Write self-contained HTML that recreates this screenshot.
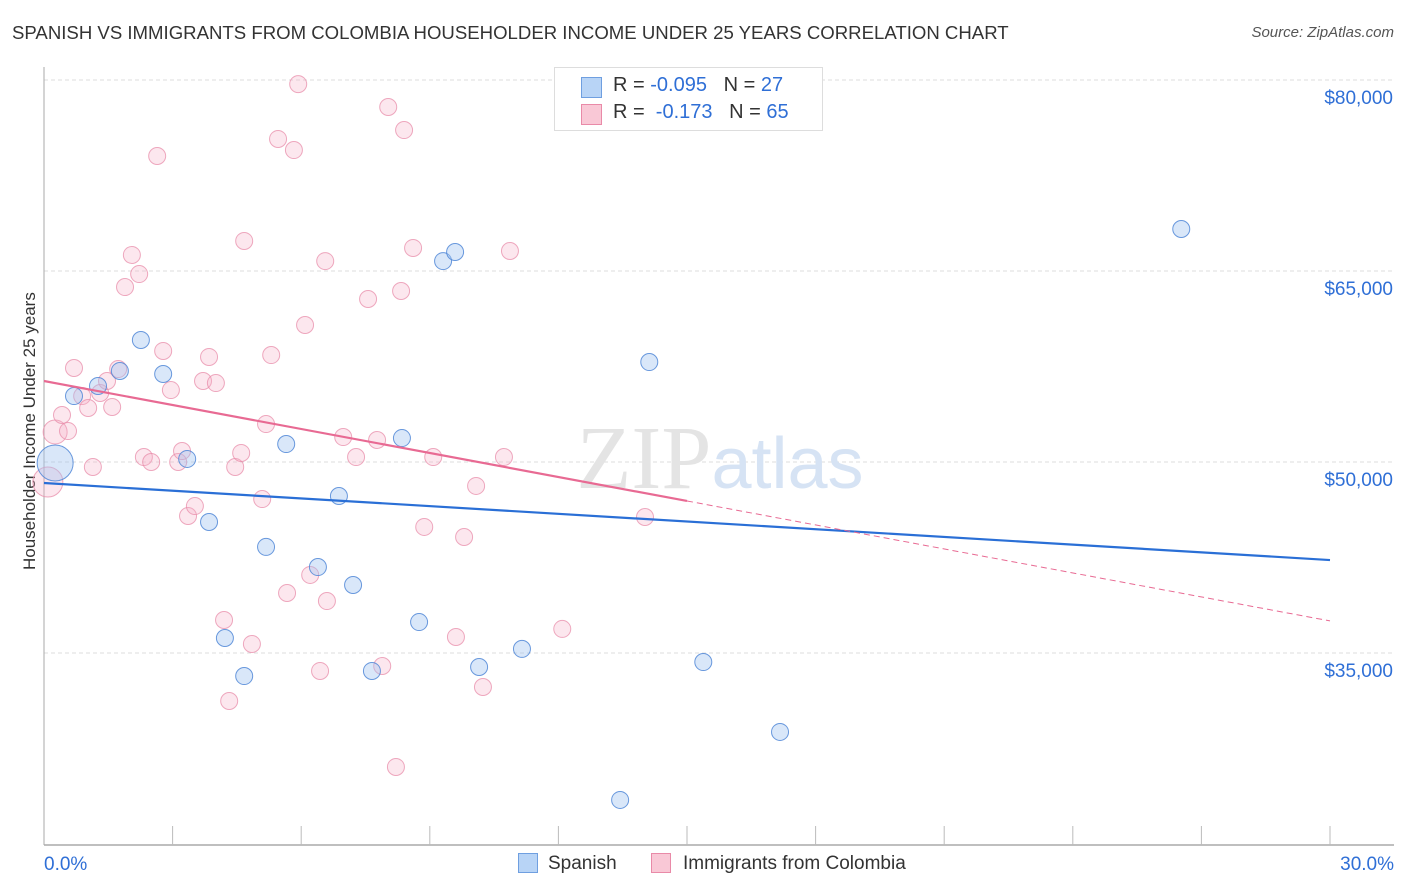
<!DOCTYPE html>
<html><head><meta charset="utf-8">
<style>
body{margin:0;background:#fff;font-family:"Liberation Sans",sans-serif;}
#wrap{position:relative;width:1406px;height:892px;overflow:hidden;}
.t{position:absolute;white-space:nowrap;}
</style></head>
<body>
<div id="wrap">
<div class="t" style="left:12px;top:22px;font-size:18.6px;color:#333;">SPANISH VS IMMIGRANTS FROM COLOMBIA HOUSEHOLDER INCOME UNDER 25 YEARS CORRELATION CHART</div>
<div class="t" style="right:12px;top:24px;font-size:15px;color:#555;font-style:italic;">Source: ZipAtlas.com</div>
<div class="t" style="left:-85px;top:445px;font-size:17px;color:#333;transform:rotate(-90deg);width:230px;text-align:center;">Householder Income Under 25 years</div>
<svg id="svg" width="1406" height="892" style="position:absolute;left:0;top:0;"></svg>
<div style="position:absolute;left:554px;top:67px;width:267px;height:62px;border:1px solid #ddd;background:#fff;font-size:20px;">
 <div style="position:absolute;left:26px;top:9px;width:19px;height:19px;background:#b8d4f6;border:1px solid #6f9fe0;"></div>
 <div class="t" style="left:58px;top:6px;color:#333;">R = <span style="color:#2f6fd6">-0.095</span>&nbsp;&nbsp;&nbsp;N = <span style="color:#2f6fd6">27</span></div>
 <div style="position:absolute;left:26px;top:36px;width:19px;height:19px;background:#f9c8d6;border:1px solid #e98aa8;"></div>
 <div class="t" style="left:58px;top:33px;color:#333;">R = &nbsp;<span style="color:#2f6fd6">-0.173</span>&nbsp;&nbsp;&nbsp;N = <span style="color:#2f6fd6">65</span></div>
</div>
<div style="position:absolute;left:518px;top:853px;width:20px;height:20px;background:#b8d4f6;border:1px solid #6f9fe0;box-sizing:border-box;"></div>
<div class="t" style="left:548px;top:853px;font-size:19px;color:#333;">Spanish</div>
<div style="position:absolute;left:651px;top:853px;width:20px;height:20px;background:#f9c8d6;border:1px solid #e98aa8;box-sizing:border-box;"></div>
<div class="t" style="left:683px;top:853px;font-size:19px;color:#333;">Immigrants from Colombia</div>
</div>
<script>
const yTicks=[35000,50000,65000,80000];
const yTickLabels=["$35,000","$50,000","$65,000","$80,000"];
const spanishX=[0.26,0.70,1.26,1.77,2.26,2.78,3.34,3.85,4.22,4.67,5.18,5.65,6.39,6.88,7.21,7.65,8.35,8.75,9.31,9.59,10.15,11.15,13.44,14.12,15.38,17.17,26.53];
const spanishY=[49920,55180,55970,57150,59580,56910,50240,45290,36180,33190,43330,51410,41750,47330,40340,33590,51880,37430,65780,66490,33900,35320,23460,57850,34290,28800,68300];
const colX=[0.09,0.26,0.42,0.56,0.70,0.89,1.03,1.14,1.31,1.47,1.59,1.73,1.89,2.05,2.22,2.33,2.50,2.64,2.78,2.96,3.13,3.22,3.36,3.52,3.71,3.85,4.01,4.20,4.32,4.46,4.60,4.67,4.85,5.09,5.18,5.30,5.46,5.67,5.83,5.93,6.09,6.21,6.44,6.56,6.60,6.98,7.28,7.56,7.77,7.89,8.03,8.21,8.33,8.40,8.61,8.87,9.08,9.61,9.80,10.08,10.24,10.73,10.87,12.09,14.02];
const colY=[48430,52360,53690,52430,57380,55180,54240,49610,55420,56360,54320,57300,63740,66260,64760,50390,50000,74030,58720,55650,50000,50860,45760,46540,56360,58250,56200,37590,31230,49610,50710,67360,35710,47090,52980,58400,75370,39710,74500,79680,60760,41130,33590,65780,39080,51960,50390,62800,51730,33980,77880,26050,63430,76070,66810,44900,50390,36260,44110,48120,32330,50390,66570,36890,45680];
const spanishTrend=[48350,42300];
const colTrend=[56360,37520];
const colSolidEnd=15;

const X=p=>44+p*1286/30;
const Y=v=>462-(v-50000)*191/15000;
const svg=document.getElementById('svg');
const NS='http://www.w3.org/2000/svg';
function mk(tag,attrs){const e=document.createElementNS(NS,tag);for(const k in attrs)e.setAttribute(k,attrs[k]);svg.appendChild(e);return e;}

yTicks.forEach((v,i)=>{
 const g=mk('line',{x1:44,x2:1393,y1:Y(v),y2:Y(v),stroke:'#ddd','stroke-dasharray':'4,3','stroke-width':1});
 
 
 const t=mk('text',{x:1393,y:Y(v)+24,'text-anchor':'end','font-size':19,fill:'#2f6fd6','font-family':'Liberation Sans, sans-serif'});
 t.textContent=yTickLabels[i];
 
 
});
const ax=mk('line',{x1:44,x2:1394,y1:845,y2:845,stroke:'#aaa','stroke-width':1.5});


const ay=mk('line',{x1:44,x2:44,y1:67,y2:845,stroke:'#aaa','stroke-width':1});


for(let i=1;i<=10;i++){
 const tk=mk('line',{x1:X(i*3),x2:X(i*3),y1:826,y2:845,stroke:'#bbb','stroke-width':1});
 
 
}
const xl0=mk('text',{x:44,y:870,'font-size':19,fill:'#2f6fd6','font-family':'Liberation Sans, sans-serif'});
xl0.textContent='0.0%';


const xl1=mk('text',{x:1394,y:870,'text-anchor':'end','font-size':19,fill:'#2f6fd6','font-family':'Liberation Sans, sans-serif'});
xl1.textContent='30.0%';


const wm=mk('text',{x:720,y:488,'text-anchor':'middle','font-size':90,fill:'#e4e4e4','font-family':'Liberation Serif, serif'});
wm.innerHTML='ZIP<tspan fill="#d6e3f4" font-family="Liberation Sans, sans-serif" font-size="72">atlas</tspan>';



colX.forEach((x,i)=>{
 const r=i===0?15:(i===1?12:8.5);
 const c=mk('circle',{cx:X(x),cy:Y(colY[i]),r:r,fill:'rgba(246,175,198,0.3)',stroke:'rgba(232,140,170,0.75)','stroke-width':1});
 
 
});
spanishX.forEach((x,i)=>{
 const r=i===0?18:8.5;
 const c=mk('circle',{cx:X(x),cy:Y(spanishY[i]),r:r,fill:'rgba(160,195,240,0.4)',stroke:'rgba(80,135,215,0.85)','stroke-width':1});
 
 
});
const bt=mk('line',{x1:X(0),y1:Y(spanishTrend[0]),x2:X(30),y2:Y(spanishTrend[1]),stroke:'#2a6fd6','stroke-width':2.2});


const cm=colTrend[0]+(colTrend[1]-colTrend[0])*colSolidEnd/30;
const pt=mk('line',{x1:X(0),y1:Y(colTrend[0]),x2:X(colSolidEnd),y2:Y(cm),stroke:'#e86a93','stroke-width':2.2});


const pd=mk('line',{x1:X(colSolidEnd),y1:Y(cm),x2:X(30),y2:Y(colTrend[1]),stroke:'#e86a93','stroke-width':1,'stroke-dasharray':'6,4'});


</script>
</body></html>
